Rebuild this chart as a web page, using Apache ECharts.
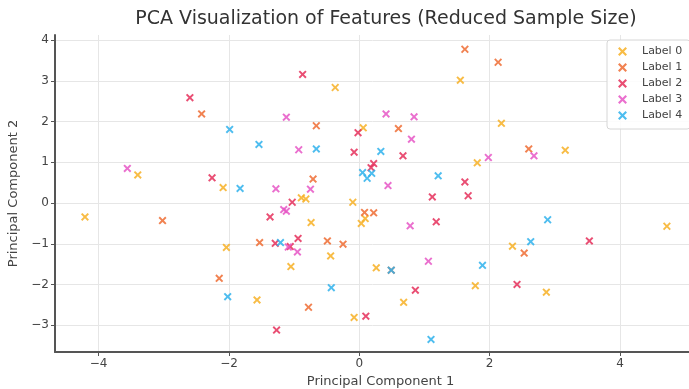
<!DOCTYPE html>
<html>
<head>
<meta charset="utf-8">
<script src="https://cdn.jsdelivr.net/npm/echarts@6/dist/echarts.min.js"></script>
<style>
  html, body { margin: 0; padding: 0; background: #fff; }
  #chart { width: 689px; height: 389px; }
</style>
</head>
<body>
<div id="chart"></div>
<script>
// points, [pc1, pc2]
const label0 = [
  [-3.40, 0.69], [-2.09, 0.38], [-4.21, -0.34], [-2.04, -1.09], [-1.57, -2.38],
  [-0.37, 2.84], [0.06, 1.85], [-0.89, 0.13], [-0.82, 0.10], [-0.74, -0.48],
  [-0.10, 0.02], [0.09, -0.38], [0.03, -0.50], [-0.44, -1.30], [-1.05, -1.56],
  [0.26, -1.59], [0.68, -2.44], [-0.08, -2.81], [1.55, 3.02], [2.18, 1.96],
  [3.16, 1.30], [1.81, 0.99], [4.72, -0.57], [2.35, -1.06], [1.78, -2.03], [2.87, -2.19]
];
const label1 = [
  [-2.42, 2.19], [-3.02, -0.43], [-1.53, -0.97], [-2.15, -1.85], [-0.66, 1.90],
  [-0.71, 0.59], [0.60, 1.83], [0.08, -0.23], [0.22, -0.24], [-0.49, -0.93],
  [-0.25, -1.01], [0.49, -1.65], [-0.78, -2.56], [1.62, 3.78], [2.13, 3.46],
  [2.60, 1.33], [2.53, -1.23]
];
const label2 = [
  [-2.60, 2.59], [-2.26, 0.62], [-0.87, 3.16], [-0.02, 1.73], [-0.08, 1.25],
  [0.67, 1.16], [0.22, 0.97], [0.18, 0.87], [1.12, 0.15], [1.62, 0.52],
  [1.67, 0.18], [-1.03, 0.02], [-1.37, -0.34], [1.18, -0.46], [-1.29, -0.99],
  [-0.94, -0.87], [-1.06, -1.07], [0.86, -2.14], [0.10, -2.78], [-1.27, -3.12],
  [3.53, -0.93], [2.42, -2.00]
];
const label3 = [
  [-3.56, 0.85], [-1.12, 2.11], [-0.93, 1.31], [0.41, 2.19], [0.84, 2.12],
  [0.80, 1.57], [0.44, 0.43], [-1.28, 0.35], [-0.75, 0.34], [2.68, 1.16],
  [1.98, 1.12], [-1.16, -0.16], [-1.12, -0.20], [0.78, -0.56], [-1.09, -1.08],
  [-0.95, -1.20], [1.06, -1.43]
];
const label4 = [
  [-1.99, 1.81], [-1.54, 1.44], [-1.83, 0.36], [-0.66, 1.33], [0.33, 1.27],
  [0.05, 0.75], [0.19, 0.73], [0.12, 0.61], [1.21, 0.67], [-1.21, -0.97],
  [-2.02, -2.30], [-0.43, -2.08], [0.49, -1.65], [1.10, -3.35], [2.89, -0.41],
  [2.63, -0.95], [1.89, -1.53]
];

const labelNames = ['Label 0', 'Label 1', 'Label 2', 'Label 3', 'Label 4'];
const xTicks = [-4, -2, 0, 2, 4];
const yTicks = [-3, -2, -1, 0, 1, 2, 3, 4];

const colors = ['#f7b024', '#ee6c32', '#e52f5a', '#e656c6', '#2fb2ec'];
const xMark = 'path://M0,1.7L1.7,0L5,3.3L8.3,0L10,1.7L6.7,5L10,8.3L8.3,10L5,6.7L1.7,10L0,8.3L3.3,5Z';
const font = 'DejaVu Sans';
const minus = v => String(v).replace('-', '\u2212');

const chart = echarts.init(document.getElementById('chart'));

const axisCommon = {
  axisLine: { show: true, onZero: false, lineStyle: { color: '#555', width: 2 } },
  axisTick: { show: true, length: 4, lineStyle: { color: '#555' } },
  splitLine: { show: true, lineStyle: { color: '#e6e6e6', width: 1 } },
  nameLocation: 'middle',
  nameTextStyle: { fontFamily: font, fontSize: 13, color: '#444' }
};

chart.setOption({
  animation: false,
  color: colors,
  title: {
    text: 'PCA Visualization of Features (Reduced Sample Size)',
    left: 381,
    textAlign: 'center',
    top: 5,
    textStyle: { fontFamily: font, fontSize: 19, fontWeight: 'normal', color: '#333' }
  },
  grid: { left: 55, top: 35, width: 651, height: 317, outerBoundsMode: 'none', containLabel: false },
  legend: {
    orient: 'vertical',
    left: 607,
    top: 40,
    itemWidth: 9,
    itemHeight: 9,
    itemGap: 5,
    padding: [6, 8, 8, 11],
    borderColor: '#d6d6d6',
    borderWidth: 1,
    borderRadius: 3,
    backgroundColor: 'rgba(255,255,255,0.85)',
    textStyle: { fontFamily: font, fontSize: 11, color: '#444', padding: [0, 0, 0, 10] },
    data: labelNames
  },
  xAxis: Object.assign({}, axisCommon, {
    type: 'value',
    min: -4.67,
    max: 5.32,
    name: 'Principal Component 1',
    nameGap: 21,
    axisTick: Object.assign({}, axisCommon.axisTick, { customValues: xTicks }),
    axisLabel: {
      customValues: xTicks, formatter: minus, margin: 6,
      fontFamily: font, fontSize: 12, color: '#444'
    }
  }),
  yAxis: Object.assign({}, axisCommon, {
    type: 'value',
    min: -3.66,
    max: 4.13,
    name: 'Principal Component 2',
    nameGap: 30,
    axisTick: Object.assign({}, axisCommon.axisTick, { customValues: yTicks }),
    axisLabel: {
      customValues: yTicks, formatter: minus, margin: 6,
      fontFamily: font, fontSize: 12, color: '#444'
    }
  }),
  series: [label0, label1, label2, label3, label4].map((pts, i) => ({
    name: labelNames[i],
    type: 'scatter',
    symbol: xMark,
    symbolSize: 8,
    itemStyle: { opacity: 0.85 },
    data: pts
  }))
});
</script>
</body>
</html>
